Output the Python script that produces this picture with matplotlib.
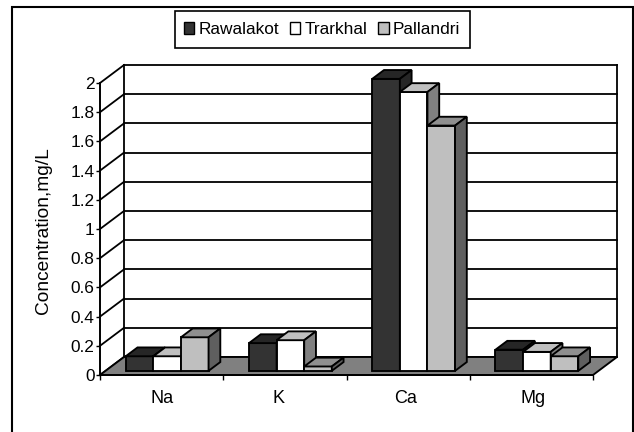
import matplotlib
matplotlib.use('Agg')
import matplotlib.pyplot as plt
from matplotlib.patches import Patch, Polygon, Rectangle

plt.rcParams['font.family'] = ['Liberation Sans', 'DejaVu Sans']

# data
elements = ['Na', 'K', 'Ca', 'Mg']
rawalakot = [0.10, 0.19, 2.00, 0.145]
trarkhal = [0.10, 0.21, 1.91, 0.13]
pallandri = [0.23, 0.03, 1.68, 0.10]
y_ticks = [0, 0.2, 0.4, 0.6, 0.8, 1, 1.2, 1.4, 1.6, 1.8, 2]
y_tick_labels = ['0', '0.2', '0.4', '0.6', '0.8', '1', '1.2', '1.4', '1.6', '1.8', '2']

W, H = 634, 432
fig = plt.figure(figsize=(W / 100, H / 100), dpi=100)
ax = fig.add_axes([100 / W, (H - 375) / H, 493 / W, 292 / H])
ax.set_xlim(0, 4)
ax.set_ylim(0, 2)

# oblique projection: depth 1 is the back wall, expressed in data units
DX = 24 / 493 * 4
DY = 18 / 292 * 2


def proj(x, y, z):
    return (x + z * DX, y + z * DY)


def face(points, color, zorder):
    ax.add_patch(Polygon([proj(*p) for p in points], closed=True, facecolor=color,
                         edgecolor='black', linewidth=1.35, joinstyle='miter',
                         clip_on=False, zorder=zorder))


def wall_line(p1, p2, lw=1.3, zorder=1):
    a, b = proj(*p1), proj(*p2)
    ax.plot([a[0], b[0]], [a[1], b[1]], color='black', lw=lw, clip_on=False,
            solid_capstyle='projecting', zorder=zorder)


# walls and floor
for t in y_ticks:
    wall_line((0, t, 0), (0, t, 1))
    wall_line((0, t, 1), (4, t, 1))
wall_line((0, 0, 1), (0, 2, 1))
wall_line((4, 0, 1), (4, 2, 1))
face([(0, 0, 0), (4, 0, 0), (4, 0, 1), (0, 0, 1)], '#808080', 2)

# bars
series = [rawalakot, trarkhal, pallandri]
front_colors = ['#333333', '#ffffff', '#bfbfbf']
top_colors = ['#262626', '#bfbfbf', '#8f8f8f']
side_colors = ['#262626', '#808080', '#5f5f5f']
bar_w = 27.6 / 493 * 4
z0, z1 = 0.23, 0.72

zo = 3
for i in range(len(elements)):
    for s, vals in enumerate(series):
        v = vals[i]
        left = i + 0.5 + (s - 1.5) * bar_w
        right = left + bar_w
        face([(left, 0, z0), (right, 0, z0), (right, v, z0), (left, v, z0)], front_colors[s], zo)
        face([(left, v, z0), (right, v, z0), (right, v, z1), (left, v, z1)], top_colors[s], zo)
        face([(right, 0, z0), (right, 0, z1), (right, v, z1), (right, v, z0)], side_colors[s], zo)
        zo += 1

# front axes
ax.patch.set_visible(False)
for side in ['top', 'right']:
    ax.spines[side].set_visible(False)
for side in ['left', 'bottom']:
    ax.spines[side].set_linewidth(1.4)
    ax.spines[side].set_zorder(30)
ax.set_yticks(y_ticks)
ax.set_yticklabels(y_tick_labels)
ax.set_xticks([0, 1, 2, 3, 4], minor=False)
ax.set_xticklabels([])
# category names sit slightly off the slot centres
ax.set_xticks([0.5, 1.45, 2.48, 3.51], minor=True)
ax.set_xticklabels(elements, minor=True)
ax.tick_params(axis='x', which='major', length=3.5, width=1, direction='out')
ax.tick_params(axis='x', which='minor', length=0, labelsize=13, pad=11)
ax.tick_params(axis='y', length=3, width=1, direction='out', labelsize=12.4, pad=1)
ax.set_ylabel('Concentration,mg/L', fontsize=13.8)
ax.yaxis.set_label_coords((52 - 100) / 493, 0.495)

# outer frame, open at the bottom of the page
fig.add_artist(Rectangle((11.5 / W, -0.1), (633 - 11.5) / W, 1.1 - 7 / H,
                         transform=fig.transFigure, fill=False,
                         edgecolor='black', linewidth=1.5))

# legend, with its box drawn separately
fig.add_artist(Rectangle((175 / W, 1 - 48 / H), 295 / W, 37 / H,
                         transform=fig.transFigure, facecolor='white',
                         edgecolor='black', linewidth=1.2))
handles = [Patch(facecolor=c, edgecolor='black', linewidth=1) for c in front_colors]
leg = fig.legend(handles, ['Rawalakot', 'Trarkhal', 'Pallandri'], ncol=3,
                 loc='center', bbox_to_anchor=(322 / W, 1 - 29.5 / H),
                 fontsize=12.4, frameon=False,
                 handlelength=0.62, handleheight=0.62,
                 handletextpad=0.25, columnspacing=0.6, borderpad=0.2,
                 borderaxespad=0)

fig.savefig('out.png', dpi=100)
